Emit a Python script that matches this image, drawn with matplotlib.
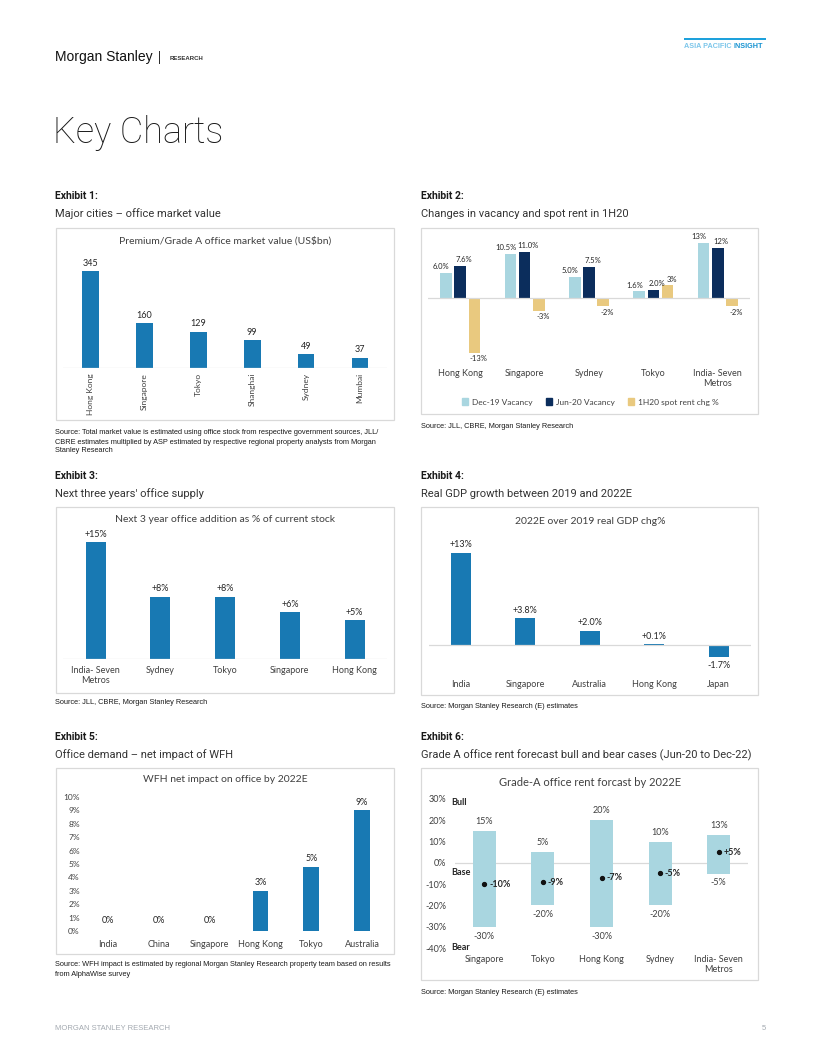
import matplotlib
matplotlib.use("Agg")
import matplotlib.pyplot as plt
import matplotlib.transforms as mtrans
from matplotlib.patches import Rectangle, Patch

# ---- data ----
ex1_cities = ["Hong Kong", "Singapore", "Tokyo", "Shanghai", "Sydney", "Mumbai"]
ex1_values = [345, 160, 129, 99, 49, 37]

ex2_cities = ["Hong Kong", "Singapore", "Sydney", "Tokyo", "India- Seven\nMetros"]
ex2_dec19 = [6.0, 10.5, 5.0, 1.6, 13.1]
ex2_jun20 = [7.6, 11.0, 7.5, 2.0, 11.9]
ex2_rent = [-13, -3, -2, 3, -2]
ex2_dec19_lbl = ["6.0%", "10.5%", "5.0%", "1.6%", "13%"]
ex2_jun20_lbl = ["7.6%", "11.0%", "7.5%", "2.0%", "12%"]
ex2_rent_lbl = ["-13%", "-3%", "-2%", "3%", "-2%"]

ex3_cities = ["India- Seven\nMetros", "Sydney", "Tokyo", "Singapore", "Hong Kong"]
ex3_values = [15, 8, 8, 6, 5]

ex4_countries = ["India", "Singapore", "Australia", "Hong Kong", "Japan"]
ex4_values = [13, 3.8, 2.0, 0.1, -1.7]

ex5_cities = ["India", "China", "Singapore", "Hong Kong", "Tokyo", "Australia"]
ex5_values = [0, 0, 0, 3.0, 4.8, 9.0]

ex6_cities = ["Singapore", "Tokyo", "Hong Kong", "Sydney", "India- Seven\nMetros"]
ex6_bull = [15, 5, 20, 10, 13]
ex6_bear = [-30, -20, -30, -20, -5]
ex6_base = [-10, -9, -7, -5, 5]

# ---- styling ----
W, H = 815, 1055
BLUE = "#1879b3"
LIGHT = "#a9d6e0"
NAVY = "#0b2d5c"
TAN = "#e9c97f"
TXT = "#404040"
LBL = "#262626"
GRID = "#d9d9d9"
CHART_FONT = ["Lato", "DejaVu Sans"]
NARROW = ["Liberation Sans Narrow", "Liberation Sans", "DejaVu Sans"]

plt.rcParams["font.family"] = CHART_FONT

fig = plt.figure(figsize=(W / 100, H / 100), dpi=100)
renderer = fig.canvas.get_renderer()


def fx(x):
    return x / W


def fy(y):
    return 1 - y / H


def add_ax(x0, y0, x1, y1):
    ax = fig.add_axes([x0 / W, 1 - y1 / H, (x1 - x0) / W, (y1 - y0) / H])
    for s in ax.spines.values():
        s.set_visible(False)
    ax.set_facecolor("none")
    return ax


def box(x0, y0, x1, y1):
    fig.add_artist(Rectangle((fx(x0), fy(y1)), (x1 - x0) / W, (y1 - y0) / H,
                             transform=fig.transFigure, fill=False,
                             edgecolor=GRID, lw=0.9))


def heading(x, y, num, sub):
    fig.text(fx(x), fy(y), f"Exhibit {num}:", fontsize=7.5, fontweight="bold",
             color="#1a1a1a", family=["Roboto", "DejaVu Sans"], va="center")
    fig.text(fx(x), fy(y + 18), sub, fontsize=8, color="#333333",
             family=["Roboto", "DejaVu Sans"], va="center")


def source(x, y, lines):
    for i, ln in enumerate(lines):
        fig.text(fx(x), fy(y + i * 9), ln, fontsize=5.3, color="#1a1a1a",
                 family=NARROW, va="center")


def cat_labels(ax, labels, ytop, rotation=0, size=6.5):
    tr = mtrans.blended_transform_factory(ax.transData, fig.transFigure)
    for i, lb in enumerate(labels):
        ax.text(i, fy(ytop), lb, transform=tr, ha="center", va="top",
                fontsize=size, color=TXT, rotation=rotation, linespacing=1.15)


# ---- page header ----
fig.text(fx(55), fy(57), "Morgan Stanley", fontsize=10, color="#111111",
         family=NARROW, va="center")
fig.text(fx(158), fy(57), "|", fontsize=9, color="#111111", va="center")
fig.text(fx(170), fy(58), "RESEARCH", fontsize=4.3, color="#333333",
         fontweight="bold", va="center", family=NARROW)
fig.add_artist(Rectangle((fx(684), fy(40)), 82 / W, 2.5 / H,
                         transform=fig.transFigure, color="#1ea1dc", lw=0))
t_asia = fig.text(fx(684), fy(46), "ASIA PACIFIC", fontsize=5.2, color="#7cc6ea",
                  fontweight="bold", va="center", family=NARROW)
asia_end = t_asia.get_window_extent(renderer).x1
fig.text(asia_end / W + 2.5 / W, fy(46), "INSIGHT", fontsize=5.2, color="#1592d1",
         fontweight="bold", va="center", family=NARROW)
fig.text(fx(53), fy(133), "Key Charts", fontsize=26, color="#1a1a1a",
         fontweight="light", family=["Roboto", "DejaVu Sans"], va="center")

# ---- footer ----
fig.text(fx(55), fy(1028), "MORGAN STANLEY RESEARCH", fontsize=5.5,
         color="#a3a9b0", family=NARROW, va="center")
fig.text(fx(762), fy(1028), "5", fontsize=5.5, color="#a3a9b0",
         family=NARROW, va="center")

# ---- Exhibit 1 ----
heading(55, 196, 1, "Major cities \u2013 office market value")
box(56, 228, 394, 420)
fig.text(fx(225), fy(241), "Premium/Grade A office market value (US$bn)",
         fontsize=7.5, color=TXT, ha="center", va="center")
ax = add_ax(63.5, 250, 387, 368)
x = range(len(ex1_cities))
ax.bar(x, ex1_values, width=0.31, color=BLUE)
ax.set_xlim(-0.5, len(ex1_cities) - 0.5)
ax.set_ylim(0, 420)
ax.axhline(0, color=GRID, lw=0.9)
ax.set_xticks([])
ax.set_yticks([])
for i, v in enumerate(ex1_values):
    ax.annotate(f"{v}", (i, v), xytext=(0, 2.5), textcoords="offset points",
                ha="center", va="bottom", fontsize=6.5, color=LBL)
cat_labels(ax, ex1_cities, 373, rotation=90, size=6)
source(55, 433, ["Source: Total market value is estimated using office stock from respective government sources, JLL/",
                 "CBRE estimates multiplied by ASP estimated by respective regional property analysts from Morgan",
                 "Stanley Research"])

# ---- Exhibit 2 ----
heading(421, 196, 2, "Changes in vacancy and spot rent in 1H20")
box(421, 228, 758, 414)
ax = add_ax(428, 235, 750, 365)
x = list(range(len(ex2_cities)))
off, bw = 0.22, 0.18
ax.bar([i - off for i in x], ex2_dec19, width=bw, color=LIGHT)
ax.bar(x, ex2_jun20, width=bw, color=NAVY)
ax.bar([i + off for i in x], ex2_rent, width=bw, color=TAN)
ax.set_xlim(-0.5, len(x) - 0.5)
ax.set_ylim(-15.95, 15.0)
ax.axhline(0, color=GRID, lw=0.9)
ax.set_xticks([])
ax.set_yticks([])
# small sideways nudges keep neighbouring labels from running into each other
for series, labels, dx, nudge in [(ex2_dec19, ex2_dec19_lbl, -off, -3.5),
                                  (ex2_jun20, ex2_jun20_lbl, 0, 2.5),
                                  (ex2_rent, ex2_rent_lbl, off, 3.0)]:
    for i, (v, lb) in enumerate(zip(series, labels)):
        ax.annotate(lb, (i + dx, v), xytext=(nudge, 2 if v >= 0 else -2),
                    textcoords="offset points", ha="center",
                    va="bottom" if v >= 0 else "top", fontsize=5.5, color=LBL)
cat_labels(ax, ex2_cities, 369)
handles = [Patch(color=LIGHT, label="Dec-19 Vacancy"),
           Patch(color=NAVY, label="Jun-20 Vacancy"),
           Patch(color=TAN, label="1H20 spot rent chg %")]
ax.legend(handles=handles, loc="center", bbox_to_anchor=(fx(590), fy(402)),
          bbox_transform=fig.transFigure, ncol=3, frameon=False, fontsize=6,
          handlelength=0.8, handleheight=0.8, columnspacing=1.6,
          handletextpad=0.4, labelcolor=TXT)
source(421, 426, ["Source: JLL, CBRE, Morgan Stanley Research"])

# ---- Exhibit 3 ----
heading(55, 476, 3, "Next three years' office supply")
box(56, 507, 394, 693)
fig.text(fx(225), fy(519), "Next 3 year office addition as % of current stock",
         fontsize=7.5, color=TXT, ha="center", va="center")
ax = add_ax(63.3, 530, 387, 659)
ax.bar(range(len(ex3_cities)), ex3_values, width=0.31, color=BLUE)
ax.set_xlim(-0.5, len(ex3_cities) - 0.5)
ax.set_ylim(0, 129 / 7.8)
ax.axhline(0, color=GRID, lw=0.9)
ax.set_xticks([])
ax.set_yticks([])
for i, v in enumerate(ex3_values):
    ax.annotate(f"{v:+.0f}%", (i, v), xytext=(0, 2.5), textcoords="offset points",
                ha="center", va="bottom", fontsize=6.5, color=LBL)
cat_labels(ax, ex3_cities, 666)
source(55, 703, ["Source: JLL, CBRE, Morgan Stanley Research"])

# ---- Exhibit 4 ----
heading(421, 476, 4, "Real GDP growth between 2019 and 2022E")
box(421, 507, 758, 695)
fig.text(fx(590), fy(522), "2022E over 2019 real GDP chg%",
         fontsize=7.5, color=TXT, ha="center", va="center")
ax = add_ax(428.7, 535, 751, 665)
ax.bar(range(len(ex4_countries)), ex4_values, width=0.31, color=BLUE)
ax.set_xlim(-0.5, len(ex4_countries) - 0.5)
ax.set_ylim(-20 / 7.1, 110 / 7.1)
ax.axhline(0, color=GRID, lw=0.9)
ax.set_xticks([])
ax.set_yticks([])
for i, v in enumerate(ex4_values):
    lb = f"{v:+.0f}%" if abs(v) >= 10 else f"{v:+.1f}%"
    ax.annotate(lb, (i, v), xytext=(0, 2.5 if v >= 0 else -2.5),
                textcoords="offset points", ha="center",
                va="bottom" if v >= 0 else "top", fontsize=6.5, color=LBL)
cat_labels(ax, ex4_countries, 680)
source(421, 706, ["Source: Morgan Stanley Research (E) estimates"])

# ---- Exhibit 5 ----
heading(55, 737, 5, "Office demand \u2013 net impact of WFH")
box(56, 768, 394, 954)
fig.text(fx(225), fy(780), "WFH net impact on office by 2022E",
         fontsize=7.5, color=TXT, ha="center", va="center")
ax = add_ax(82.6, 797, 387.4, 931)
ax.bar(range(len(ex5_cities)), ex5_values, width=0.31, color=BLUE)
ax.set_xlim(-0.5, len(ex5_cities) - 0.5)
ax.set_ylim(0, 10)
ax.set_xticks([])
ax.set_yticks(range(0, 11))
ax.set_yticklabels([f"{t}%" for t in range(0, 11)], fontsize=6, color=TXT)
ax.tick_params(axis="y", length=0, pad=2)
for i, v in enumerate(ex5_values):
    ax.annotate(f"{v:.0f}%", (i, v), xytext=(0, 4 if v == 0 else 2.5),
                textcoords="offset points", ha="center", va="bottom",
                fontsize=6.5, color=LBL)
cat_labels(ax, ex5_cities, 940)
source(55, 965, ["Source: WFH impact is estimated by regional Morgan Stanley Research property team based on results",
                 "from AlphaWise survey"])

# ---- Exhibit 6 ----
heading(421, 737, 6, "Grade A office rent forecast bull and bear cases (Jun-20 to Dec-22)")
box(421, 768, 758, 980)
fig.text(fx(590), fy(782), "Grade-A office rent forcast by 2022E",
         fontsize=8, color=TXT, ha="center", va="center")
ax = add_ax(455, 799, 748, 948)
x = range(len(ex6_cities))
ax.bar(x, [t - b for t, b in zip(ex6_bull, ex6_bear)], bottom=ex6_bear,
       width=0.39, color=LIGHT)
ax.plot(x, ex6_base, "o", color="#111111", ms=2.8)
ax.set_xlim(-0.5, len(ex6_cities) - 0.5)
ax.set_ylim(-40, 30)
ax.axhline(0, color=GRID, lw=0.9, zorder=0)
ax.set_xticks([])
ax.set_yticks(range(-40, 31, 10))
ax.set_yticklabels([f"{t}%" for t in range(-40, 31, 10)], fontsize=6.5, color=TXT)
ax.tick_params(axis="y", length=0, pad=6.5)
for i in x:
    ax.annotate(f"{ex6_bull[i]}%", (i, ex6_bull[i]), xytext=(0, 3.5),
                textcoords="offset points", ha="center", va="bottom",
                fontsize=6.5, color=TXT)
    ax.annotate(f"{ex6_bear[i]}%", (i, ex6_bear[i]), xytext=(0, -3.5),
                textcoords="offset points", ha="center", va="top",
                fontsize=6.5, color=TXT)
    ax.annotate(f"{ex6_base[i]:+.0f}%", (i, ex6_base[i]), xytext=(3.5, 0),
                textcoords="offset points", ha="left", va="center",
                fontsize=6.5, color=LBL, fontweight="bold")
tr = mtrans.blended_transform_factory(fig.transFigure, ax.transData)
for lb, yv in [("Bull", 28.5), ("Base", -4.5), ("Bear", -40)]:
    ax.text(fx(451), yv, lb, transform=tr, ha="left", va="center",
            fontsize=6.5, color=LBL, fontweight="bold")
cat_labels(ax, ex6_cities, 955)
source(421, 992, ["Source: Morgan Stanley Research (E) estimates"])

fig.savefig("out.png", dpi=100)
